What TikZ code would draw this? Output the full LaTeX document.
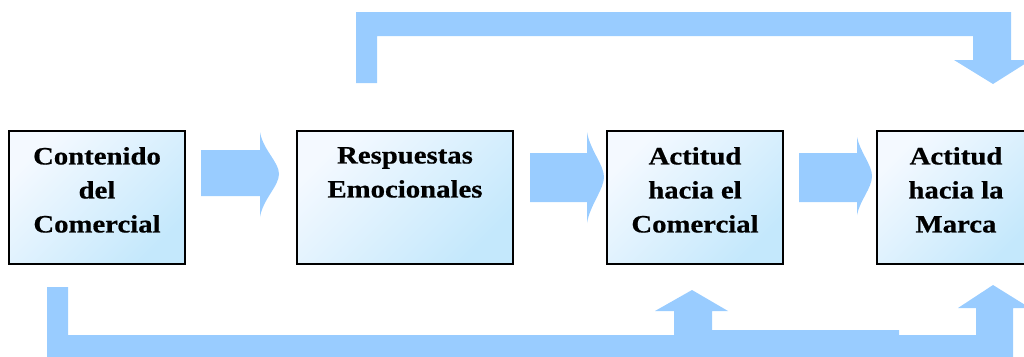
\documentclass[tikz,border=0pt]{standalone}
\usepackage{fontspec}
\newfontfamily\boxfont{Liberation Serif}[FakeStretch=1.15,FakeBold=0.6]
\usetikzlibrary{calc}
\definecolor{flowblue}{RGB}{153,204,255}
\definecolor{boxlight}{RGB}{244,249,255}
\definecolor{boxdark}{RGB}{196,232,252}
\tikzset{
  stage/.style={draw=black, line width=2.2pt, shading=axis, top color=boxlight,
    bottom color=boxdark, shading angle=45, inner sep=0pt},
  stagetext/.style={anchor=north, align=center, inner sep=0pt,
    font=\boxfont\bfseries\fontsize{25}{34}\selectfont},
  flow/.style={fill=flowblue, draw=none}
}
\begin{document}
\begin{tikzpicture}[x=1pt,y=-1pt]
\useasboundingbox (0,0) rectangle (1024,356);
\clip (0,0) rectangle (1024,356);

% stages
\node[stage, minimum width=176pt, minimum height=133pt] (b1) at (97,197.5) {};
\node[stage, minimum width=216pt, minimum height=133pt] (b2) at (405,197.5) {};
\node[stage, minimum width=176pt, minimum height=133pt] (b3) at (695,197.5) {};
\node[stage, minimum width=158pt, minimum height=133pt] (b4) at (956,197.5) {};

\node[stagetext] (t1) at ([yshift=-17pt]b1.north) {Contenido\\del\\Comercial};
\node[stagetext] (t2) at ([yshift=-17pt]b2.north) {Respuestas\\Emocionales};
\node[stagetext] (t3) at ([yshift=-17pt]b3.north) {Actitud\\hacia el\\Comercial};
\node[stagetext] (t4) at ([yshift=-17pt]b4.north) {Actitud\\hacia la\\Marca};

% forward block arrows between stages
\fill[flow] (201,150) -- (260,150) -- (260,132)
  .. controls (263,150) and (279,162) .. (279,174)
  .. controls (279,186) and (263,199) .. (260,217)
  -- (260,196) -- (201,196) -- cycle;
\fill[flow] (530,153) -- (587,153) -- (587,132)
  .. controls (590,150) and (604,165) .. (604,177)
  .. controls (604,189) and (590,205) .. (587,223)
  -- (587,202) -- (530,202) -- cycle;
\fill[flow] (799,153) -- (857,153) -- (857,137)
  .. controls (860,152) and (872,165) .. (872,176)
  .. controls (872,188) and (860,200) .. (857,215)
  -- (857,202) -- (799,202) -- cycle;

% feedback from the emotional responses to brand attitude (top)
\fill[flow] (356,83) -- (356,12) -- (1011,12) -- (1011,60) -- (1031,60)
  -- (993,84) -- (954,60) -- (973,60) -- (973,36) -- (377,36)
  -- (377,83) -- cycle;

% feedback from the content to both attitudes (bottom)
\fill[flow] (47,287) -- (68,287) -- (68,335) -- (674,335) -- (674,311)
  -- (655,311) -- (692,290) -- (728,311) -- (712,311) -- (712,330)
  -- (899,330) -- (899,335) -- (976,335) -- (976,308) -- (958,308)
  -- (993,285) -- (1030,308) -- (1013,308) -- (1013,360) -- (47,360) -- cycle;
\end{tikzpicture}
\end{document}
